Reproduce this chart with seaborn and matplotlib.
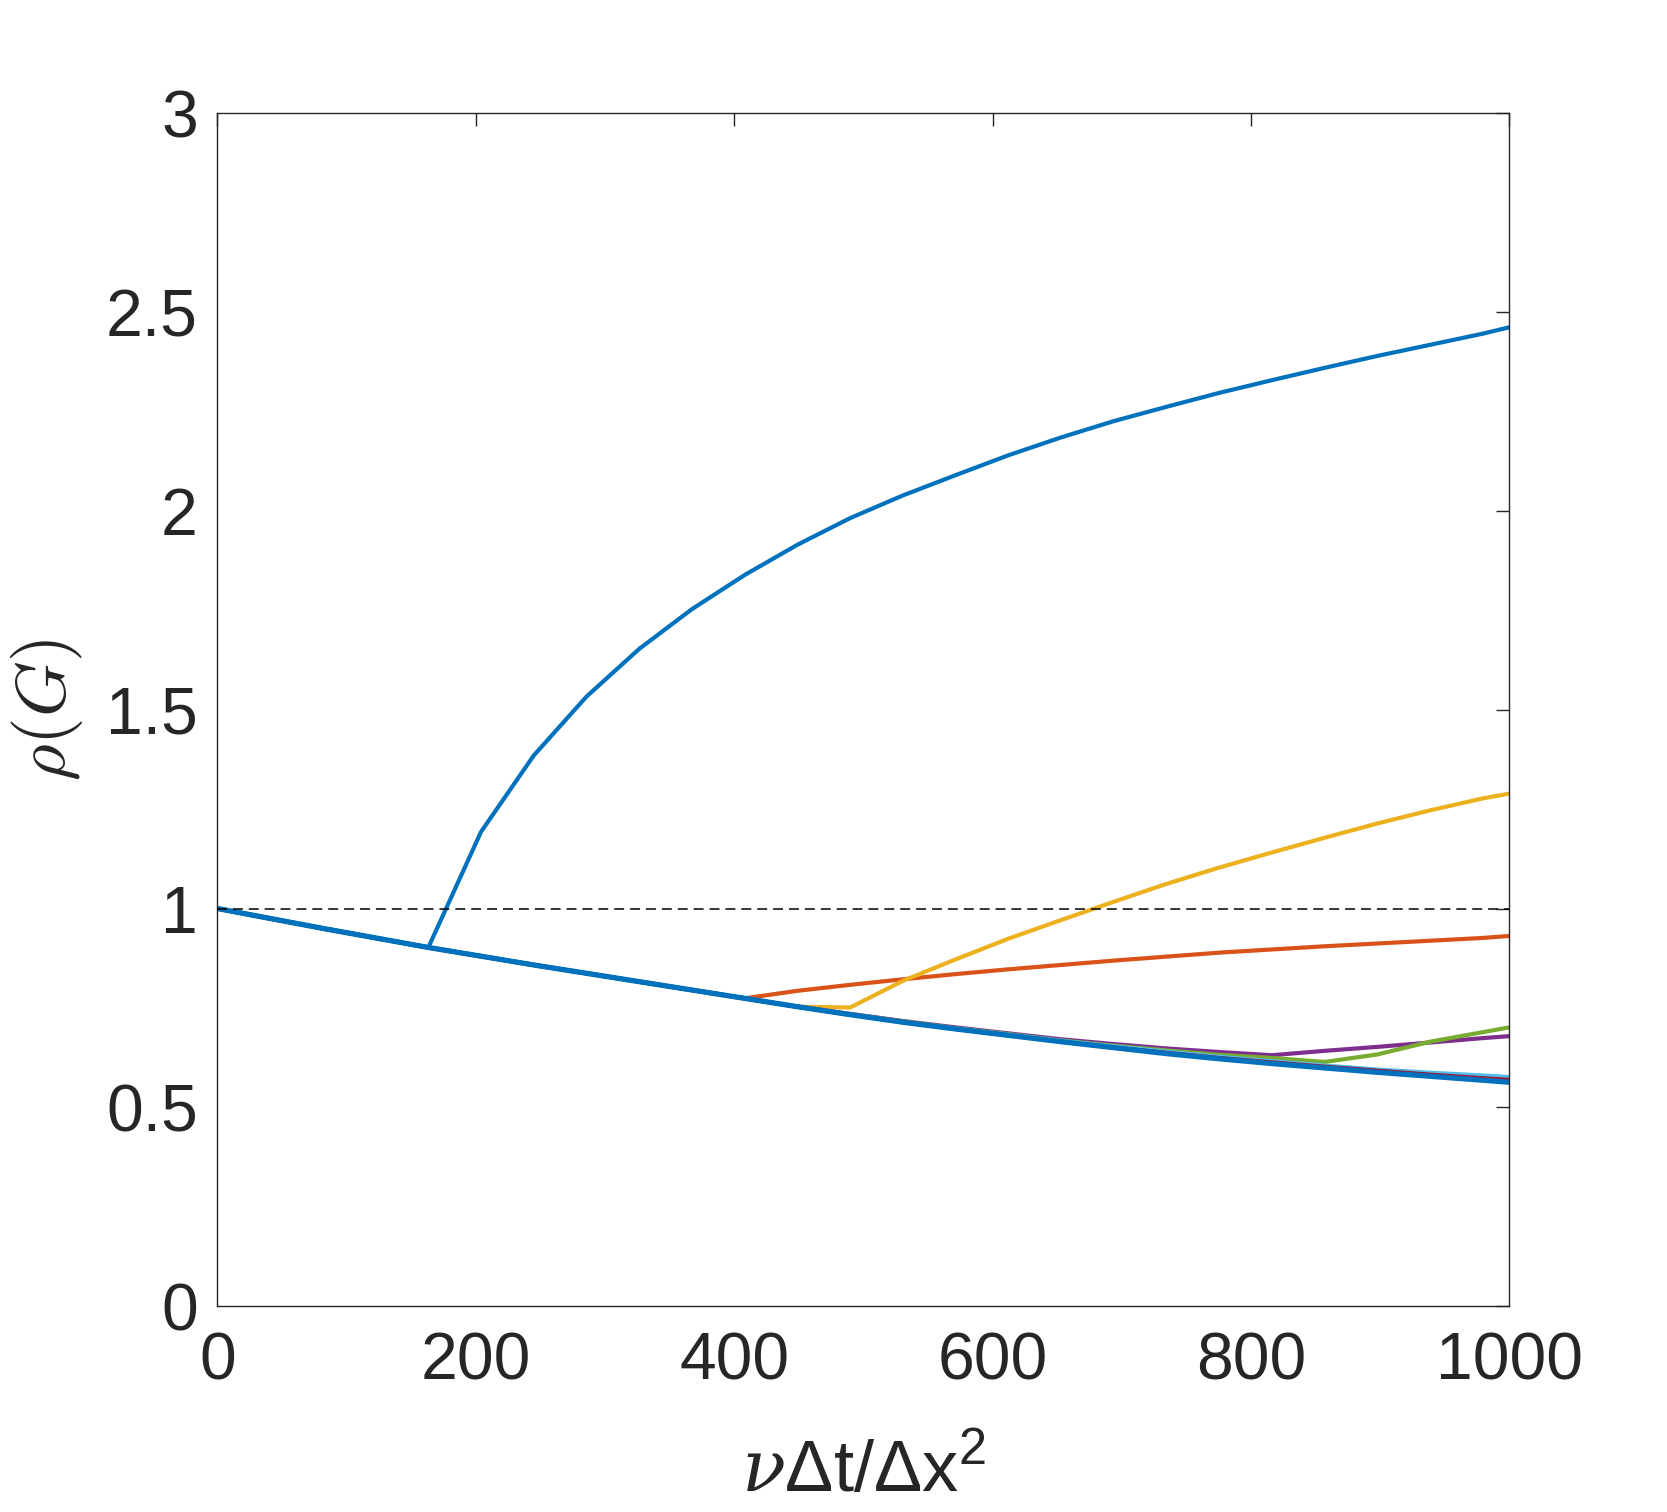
import matplotlib
matplotlib.use("Agg")
import matplotlib.pyplot as plt
import seaborn as sns
import pandas as pd

# shared x grid (nu*dt/dx^2)
x_vals = [0.0, 40.8, 81.6, 122.4, 163.3, 204.1, 244.9, 285.7, 326.5, 367.3,
          408.2, 449.0, 489.8, 530.6, 571.4, 612.2, 653.1, 693.9, 734.7, 775.5,
          816.3, 857.1, 898.0, 938.8, 979.6, 1000.0]

# lower envelope, common to all curves at small x
rho_base = [1.000, 0.975, 0.950, 0.926, 0.902, 0.880, 0.858, 0.837, 0.816, 0.795,
            0.774, 0.753, 0.733, 0.714, 0.697, 0.681, 0.665, 0.650, 0.635, 0.622,
            0.610, 0.599, 0.588, 0.578, 0.568, 0.563]

rho_blue = rho_base[:5] + [1.193, 1.385, 1.533, 1.653, 1.753, 1.839, 1.915, 1.982,
                           2.039, 2.090, 2.140, 2.185, 2.226, 2.262, 2.297, 2.329,
                           2.360, 2.390, 2.418, 2.446, 2.462]
rho_orange = rho_base[:11] + [0.793, 0.808, 0.822, 0.835, 0.847, 0.858, 0.869, 0.879,
                              0.889, 0.897, 0.905, 0.912, 0.919, 0.926, 0.931]
rho_yellow = rho_base[:12] + [0.751, 0.818, 0.872, 0.924, 0.971, 1.017, 1.062, 1.103,
                              1.141, 1.178, 1.214, 1.247, 1.277, 1.289]
rho_purple = rho_base[:12] + [0.735, 0.717, 0.701, 0.686, 0.671, 0.659, 0.648, 0.639,
                              0.631, 0.642, 0.652, 0.663, 0.674, 0.679]
rho_green = rho_base[:12] + [0.734, 0.716, 0.699, 0.684, 0.668, 0.655, 0.643, 0.632,
                             0.624, 0.614, 0.633, 0.665, 0.689, 0.701]
rho_lightblue = rho_base[:14] + [0.698, 0.683, 0.667, 0.653, 0.640, 0.627, 0.616,
                                 0.605, 0.595, 0.587, 0.580, 0.576]
rho_darkred = rho_base[:18] + [0.637, 0.624, 0.613, 0.602, 0.592, 0.582, 0.573, 0.569]

series_names = ["s1", "s2", "s3", "s4", "s5", "s6", "s7"]
series_vals = [rho_blue, rho_orange, rho_yellow, rho_purple, rho_green,
               rho_lightblue, rho_darkred]
series_colors = ["#0072BD", "#D95319", "#EDB120", "#7E2F8E", "#77AC30",
                 "#4DBEEE", "#A2142F"]

xticks = [0, 200, 400, 600, 800, 1000]
yticks = [0, 0.5, 1, 1.5, 2, 2.5, 3]
ytick_labels = ["0", "0.5", "1", "1.5", "2", "2.5", "3"]

rows = []
for name, vals in zip(series_names, series_vals):
    for xv, yv in zip(x_vals, vals):
        rows.append({"x": xv, "rho": yv, "series": name})
df = pd.DataFrame(rows)

sns.set_theme(style="white")
plt.rcParams["font.family"] = ["Liberation Sans", "DejaVu Sans"]
plt.rcParams["mathtext.fontset"] = "custom"
plt.rcParams["mathtext.rm"] = "Liberation Sans"
plt.rcParams["mathtext.it"] = "DejaVu Serif:italic"

ink = "#262626"
fig = plt.figure(figsize=(16.67, 15.12), dpi=100)
ax = fig.add_axes([0.1304, 0.1362, 0.7750, 0.7888])

sns.lineplot(data=df, x="x", y="rho", hue="series", hue_order=series_names,
             palette=dict(zip(series_names, series_colors)), linewidth=3.0,
             estimator=None, sort=False, legend=False, ax=ax)
sns.lineplot(x=x_vals, y=rho_base, color="#0072BD", linewidth=3.8,
             estimator=None, sort=False, ax=ax)
ax.axhline(1, color="black", linewidth=1.1, linestyle=(0, (6.5, 3.9)), zorder=5)

ax.set_xlim(0, 1000)
ax.set_ylim(0, 3)
ax.set_xticks(xticks)
ax.set_yticks(yticks)
ax.set_yticklabels(ytick_labels)
ax.tick_params(direction="in", length=9.4, width=1.0, top=True, right=True,
               labelsize=47.5, colors=ink)
ax.tick_params(axis="x", pad=18)
ax.tick_params(axis="y", pad=14)
for sp in ax.spines.values():
    sp.set_color(ink)
    sp.set_linewidth(1.0)

ax.set_xlabel(r"$\nu\mathrm{\Delta t/\Delta x}^{2}$", fontsize=52, color=ink, labelpad=32)
ax.set_ylabel(r"$\rho(G)$", fontsize=51, color=ink, labelpad=15, math_fontfamily="cm")

fig.savefig("out.png", dpi=100, facecolor="white")
